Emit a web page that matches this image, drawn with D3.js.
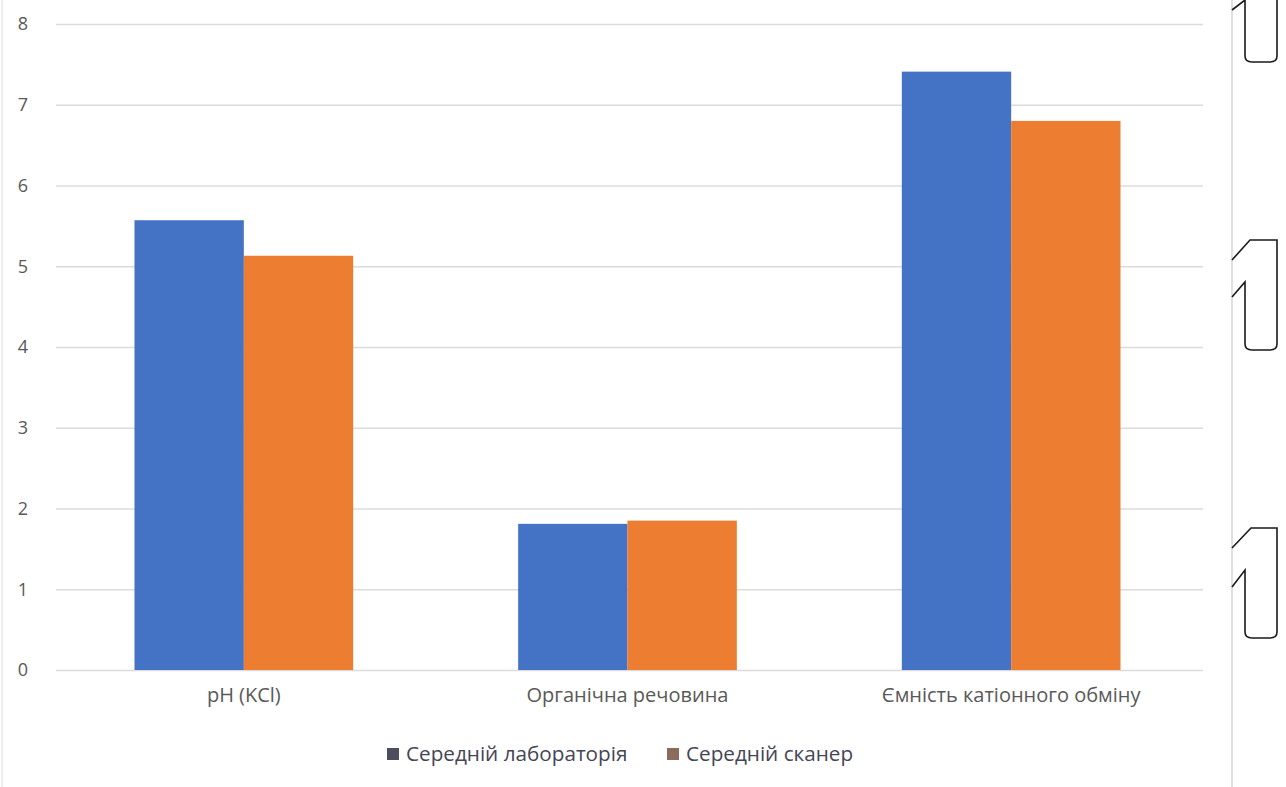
<!DOCTYPE html>
<html>
<head>
<meta charset="utf-8">
<script src="https://cdn.jsdelivr.net/npm/d3@7"></script>
<style>
  html, body { margin: 0; padding: 0; background: #fff; }
  svg { display: block; font-family: "Open Sans", "Noto Sans", sans-serif; }
</style>
</head>
<body>
<svg id="chart" width="1286" height="787"></svg>
<script>
// Soil indicators: laboratory vs scanner averages
const categories = ["pH (KCl)", "Органічна речовина", "Ємність катіонного обміну"];
const seriesNames = ["Середній лабораторія", "Середній сканер"];
const labValues = [5.57, 1.81, 7.41];
const scannerValues = [5.13, 1.85, 6.80];
const yTicks = [0, 1, 2, 3, 4, 5, 6, 7, 8];

const barColors = ["#4472C4", "#ED7D31"];
const legendColors = ["#4d4d60", "#8a6b5c"];

const svg = d3.select("#chart");
const margin = { left: 52, right: 83, top: 24, bottom: 117 };
const W = 1286, H = 787;
const plotTop = margin.top, plotBottom = H - margin.bottom;

const x0 = d3.scaleBand()
  .domain(categories)
  .range([margin.left, W - margin.right])
  .paddingInner(0.43)
  .paddingOuter(0.215);

const x1 = d3.scaleBand()
  .domain(seriesNames)
  .range([0, x0.bandwidth()])
  .padding(0);

const y = d3.scaleLinear()
  .domain([0, 8])
  .range([plotBottom, plotTop]);

// Gridlines
const gridAxis = d3.axisLeft(y)
  .tickValues(yTicks)
  .tickSize(-(W - margin.right - margin.left - 4))
  .tickFormat("");
const grid = svg.append("g")
  .attr("transform", `translate(${margin.left + 4},0)`)
  .call(gridAxis);
grid.select(".domain").remove();
grid.selectAll("line").attr("stroke", "#dcdcdc").attr("stroke-width", 1.3);

// Y tick labels
const yAxis = d3.axisLeft(y).tickValues(yTicks).tickSize(0).tickPadding(0).tickFormat(d3.format("d"));
const ya = svg.append("g")
  .attr("transform", `translate(28,0)`)
  .call(yAxis);
ya.select(".domain").remove();
ya.selectAll("text")
  .attr("fill", "#595959")
  .style("font-size", "18px")
  .style("font-family", "'Open Sans', sans-serif");

// Bars
const rows = categories.map((c, i) => ({ cat: c, vals: [labValues[i], scannerValues[i]] }));
const groups = svg.append("g").selectAll("g")
  .data(rows)
  .join("g")
  .attr("transform", d => `translate(${x0(d.cat)},0)`);
groups.selectAll("rect")
  .data(d => d.vals.map((v, k) => ({ name: seriesNames[k], v, k })))
  .join("rect")
  .attr("x", d => x1(d.name))
  .attr("width", x1.bandwidth())
  .attr("y", d => y(d.v))
  .attr("height", d => y(0) - y(d.v))
  .attr("fill", d => barColors[d.k]);

// Category labels
const xAxis = d3.axisBottom(x0).tickSize(0).tickPadding(18);
const xa = svg.append("g")
  .attr("transform", `translate(0,${plotBottom})`)
  .call(xAxis);
xa.select(".domain").remove();
xa.selectAll("text")
  .attr("fill", "#595959")
  .style("font-size", "20px")
  .style("font-family", "'Open Sans', sans-serif");

// Legend
const legendX = [387, 667];
const legend = svg.append("g").selectAll("g")
  .data(seriesNames)
  .join("g")
  .attr("transform", (d, i) => `translate(${legendX[i]},748)`);
legend.append("rect")
  .attr("width", 12).attr("height", 12)
  .attr("fill", (d, i) => legendColors[i]);
legend.append("text")
  .attr("x", 19).attr("y", 6).attr("dy", "0.35em")
  .attr("fill", "#454555")
  .style("font-size", "20.7px")
  .style("font-family", "'Open Sans', sans-serif")
  .text(d => d);

// Page edge decorations
svg.append("line")
  .attr("x1", 1232).attr("x2", 1232).attr("y1", 0).attr("y2", H)
  .attr("stroke", "#e0e0e0").attr("stroke-width", 2);
svg.append("line")
  .attr("x1", 2).attr("x2", 2).attr("y1", 0).attr("y2", H)
  .attr("stroke", "#eeeeee").attr("stroke-width", 2);

const brackets = [
  "M1232,10 L1245,0 L1245,56 Q1245,62 1252,62 L1270,62 Q1277,62 1277,56 L1277,0",
  "M1232,260 L1250,240 L1277,240 L1277,344 Q1277,350 1270,350 L1252,350 Q1245,350 1245,344 L1245,282 L1232,297",
  "M1232,548 L1251,528 L1277,528 L1277,632 Q1277,638 1270,638 L1252,638 Q1245,638 1245,632 L1245,570 L1232,587"
];
svg.append("g").selectAll("path")
  .data(brackets)
  .join("path")
  .attr("d", d => d)
  .attr("fill", "none")
  .attr("stroke", "#1a1a1a")
  .attr("stroke-width", 1.6);
</script>
</body>
</html>
